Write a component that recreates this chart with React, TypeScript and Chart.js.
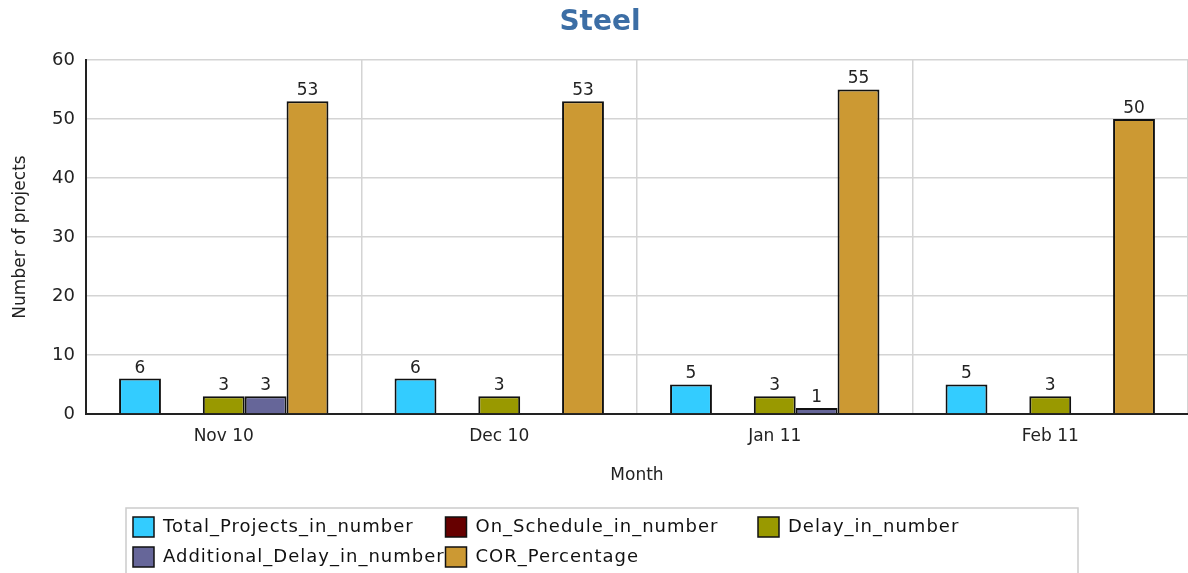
import React, { useEffect, useRef } from "react";
import { Chart, registerables } from "chart.js";

Chart.register(...registerables);

const categories = ["Nov 10", "Dec 10", "Jan 11", "Feb 11"];
const seriesNames = [
  "Total_Projects_in_number",
  "On_Schedule_in_number",
  "Delay_in_number",
  "Additional_Delay_in_number",
  "COR_Percentage",
];
const totalProjects = [6, 6, 5, 5];
const onSchedule = [0, 0, 0, 0];
const delay = [3, 3, 3, 3];
const additionalDelay = [3, 0, 1, 0];
const corPercentage = [53, 53, 55, 50];
const seriesColors = ["#33CCFF", "#660000", "#999900", "#666699", "#CC9933"];
const yTicks = [0, 10, 20, 30, 40, 50, 60];

const FONT = "'DejaVu Sans', sans-serif";

const titlePlugin = {
  id: "customTitle",
  afterDraw(chart: any) {
    const ctx = chart.ctx;
    ctx.save();
    ctx.font = `bold 28px ${FONT}`;
    ctx.fillStyle = "#3C6EA5";
    ctx.textAlign = "center";
    ctx.textBaseline = "middle";
    ctx.fillText("Steel", 600, 23);
    ctx.restore();
  },
};

const valueLabelPlugin = {
  id: "valueLabels",
  afterDatasetsDraw(chart: any) {
    const ctx = chart.ctx;
    ctx.save();
    ctx.font = `17px ${FONT}`;
    ctx.fillStyle = "#222";
    ctx.textAlign = "center";
    ctx.textBaseline = "bottom";
    chart.data.datasets.forEach((ds: any, i: number) => {
      const meta = chart.getDatasetMeta(i);
      meta.data.forEach((el: any, j: number) => {
        const v = ds.data[j];
        if (v > 0) ctx.fillText(String(v), el.x, el.y - 2);
      });
    });
    ctx.restore();
  },
};

const legendPlugin = {
  id: "boxLegend",
  afterDraw(chart: any) {
    const ctx = chart.ctx;
    const boxLeft = 126;
    const boxTop = 508;
    const boxRight = 1078;
    ctx.save();
    ctx.strokeStyle = "#cccccc";
    ctx.lineWidth = 1.5;
    ctx.beginPath();
    ctx.moveTo(boxLeft, chart.height + 2);
    ctx.lineTo(boxLeft, boxTop);
    ctx.lineTo(boxRight, boxTop);
    ctx.lineTo(boxRight, chart.height + 2);
    ctx.stroke();
    ctx.font = `18px ${FONT}`;
    (ctx as any).letterSpacing = "1px";
    ctx.textAlign = "left";
    ctx.textBaseline = "middle";
    chart.data.datasets.forEach((ds: any, i: number) => {
      const col = i % 3;
      const row = Math.floor(i / 3);
      const sx = 133 + col * 312.5;
      const sy = 517 + row * 30;
      ctx.fillStyle = ds.backgroundColor;
      ctx.fillRect(sx, sy, 21, 20);
      ctx.strokeStyle = "#111";
      ctx.lineWidth = 1.5;
      ctx.strokeRect(sx, sy, 21, 20);
      ctx.fillStyle = "#111";
      ctx.fillText(ds.label, sx + 30, sy + 10);
    });
    ctx.restore();
  },
};

export default function App() {
  const ref = useRef<HTMLCanvasElement | null>(null);

  useEffect(() => {
    if (!ref.current) return;
    const seriesData = [totalProjects, onSchedule, delay, additionalDelay, corPercentage];
    const chart = new Chart(ref.current, {
      type: "bar",
      data: {
        labels: categories,
        datasets: seriesNames.map((name, i) => ({
          label: name,
          data: seriesData[i],
          backgroundColor: seriesColors[i],
          borderColor: "#111",
          borderWidth: 2,
          barPercentage: 1,
          categoryPercentage: 0.76,
        })),
      },
      options: {
        responsive: false,
        animation: false,
        layout: { padding: { top: 60, right: 0, bottom: 0, left: 0 } },
        plugins: {
          legend: { display: false },
          title: { display: false },
          tooltip: { enabled: false },
        },
        scales: {
          x: {
            grid: { color: "#d4d4d4", lineWidth: 1.5, drawTicks: false, offset: true },
            border: { color: "#222", width: 2 },
            ticks: { color: "#222", font: { family: FONT, size: 17 }, padding: 12 },
            title: {
              display: true,
              text: "Month",
              color: "#222",
              font: { family: FONT, size: 17 },
              padding: { top: 0, bottom: 87 },
            },
            afterFit(scale: any) {
              scale.height = 159;
            },
          },
          y: {
            min: 0,
            max: 60,
            afterBuildTicks(scale: any) {
              scale.ticks = yTicks.map((v) => ({ value: v }));
            },
            grid: { color: "#d4d4d4", lineWidth: 1.5, drawTicks: false },
            border: { color: "#222", width: 2 },
            ticks: { color: "#222", font: { family: FONT, size: 18 }, padding: 11 },
            title: {
              display: true,
              text: "Number of projects",
              color: "#222",
              font: { family: FONT, size: 17 },
              padding: { top: 10, bottom: 0 },
            },
            afterFit(scale: any) {
              scale.width = 86;
            },
          },
        },
      },
      plugins: [titlePlugin, valueLabelPlugin, legendPlugin],
    });
    return () => chart.destroy();
  }, []);

  return (
    <canvas
      ref={ref}
      width={1188}
      height={573}
      style={{ position: "absolute", left: 0, top: 0, display: "block", background: "#fff" }}
    />
  );
}
